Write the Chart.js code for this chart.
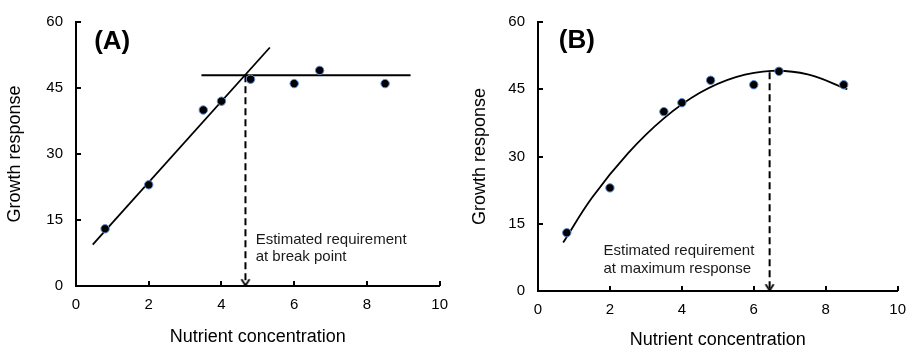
<!DOCTYPE html>
<html>
<head>
<meta charset="utf-8">
<script src="https://cdn.jsdelivr.net/npm/chart.js@4.4.1/dist/chart.umd.min.js"></script>
<style>
  body { margin: 0; background: #fff; }
  .panel { position: absolute; top: 0; width: 458px; height: 350px; }
  #panelA { left: 0; }
  #panelB { left: 458px; }
</style>
</head>
<body>
<div class="panel" id="panelA"><canvas id="chartA"></canvas></div>
<div class="panel" id="panelB"><canvas id="chartB"></canvas></div>
<script>
// observed responses (same in both panels)
var concentration = [0.8, 2, 3.5, 4, 4.8, 6, 6.7, 8.5];
var growth = [13, 23, 40, 42, 47, 46, 49, 46];
var xTicks = [0, 2, 4, 6, 8, 10];
var yTicks = [0, 15, 30, 45, 60];

// (A) broken-line model
var riseX = [0.46, 5.33];
var riseY = [9.4, 54.2];
var plateauX = [3.45, 9.2];
var plateauY = [47.9, 47.9];
var breakX = [4.66, 4.66];
var breakY = [47.9, 0];

// (B) quadratic model
var curveX = [0.7, 1.5, 2.5, 3.5, 4.5, 5.5, 6.5, 7.5, 8.6];
var curveY = [10.8, 20.8, 30.7, 38.5, 44.2, 47.7, 49.1, 48.3, 45.0];
var maxX = [6.44, 6.44];
var maxY = [48.8, 0];

Chart.defaults.font.family = '"Liberation Sans", Arial, sans-serif';
Chart.defaults.color = '#000';

function pts(xs, ys) {
  return xs.map(function (x, i) { return { x: x, y: ys[i] }; });
}

// open "v" arrow head, tip at the centre of the canvas
function makeChevron() {
  var c = document.createElement('canvas');
  c.width = 12; c.height = 16;
  var g = c.getContext('2d');
  g.strokeStyle = '#000';
  g.lineWidth = 1.8;
  g.beginPath();
  g.moveTo(2, 1.2); g.lineTo(6, 7.6); g.lineTo(10, 1.2);
  g.stroke();
  return c;
}
var chevron = makeChevron();

// panel letter, note text and inward tick marks
var notesPlugin = {
  id: 'notes',
  afterDraw: function (chart, args, opts) {
    var ctx = chart.ctx, xs = chart.scales.x, ys = chart.scales.y;
    var a = chart.chartArea;
    ctx.save();
    ctx.strokeStyle = '#000';
    ctx.lineWidth = 2;
    ctx.beginPath();
    xTicks.forEach(function (v) {
      var px = Math.round(xs.getPixelForValue(v));
      ctx.moveTo(px, a.bottom); ctx.lineTo(px, a.bottom - 5);
    });
    yTicks.forEach(function (v) {
      var py = Math.round(ys.getPixelForValue(v));
      ctx.moveTo(a.left, py); ctx.lineTo(a.left + 5, py);
    });
    ctx.stroke();

    ctx.textBaseline = 'middle';
    ctx.textAlign = 'left';
    ctx.fillStyle = '#000';
    ctx.font = 'bold 26px "Liberation Sans", Arial, sans-serif';
    ctx.fillText(opts.panel, xs.getPixelForValue(opts.panelAt[0]), ys.getPixelForValue(opts.panelAt[1]));
    ctx.fillStyle = '#1a1a1a';
    ctx.font = '15px "Liberation Sans", Arial, sans-serif';
    opts.note.forEach(function (line, i) {
      ctx.fillText(line, xs.getPixelForValue(opts.noteAt[0]), ys.getPixelForValue(opts.noteAt[1]) + i * 17.5);
    });
    ctx.restore();
  }
};

function buildPanel(id, fits, geo, notes) {
  var datasets = [{
    data: pts(concentration, growth),
    backgroundColor: '#000',
    borderColor: '#5b8fd6',
    borderWidth: 1,
    pointRadius: 4.2,
    order: 0
  }].concat(fits);

  return new Chart(document.getElementById(id), {
    type: 'scatter',
    data: { datasets: datasets },
    plugins: [notesPlugin],
    options: {
      responsive: true,
      maintainAspectRatio: false,
      animation: false,
      devicePixelRatio: 1,
      layout: { padding: { left: 0, right: geo.right, top: geo.top, bottom: 0 } },
      plugins: {
        legend: { display: false },
        tooltip: { enabled: false },
        notes: notes
      },
      scales: {
        x: {
          type: 'linear', min: 0, max: 10,
          afterBuildTicks: function (s) { s.ticks = xTicks.map(function (v) { return { value: v }; }); },
          afterFit: function (s) { s.height = geo.xHeight; },
          grid: { display: false, drawTicks: false },
          border: { display: true, color: '#000', width: 2 },
          ticks: { padding: 10, font: { size: 15 } },
          title: {
            display: true, text: 'Nutrient concentration',
            font: { size: 18 }, padding: { top: 0, bottom: geo.xTitlePad }
          }
        },
        y: {
          type: 'linear', min: 0, max: 60,
          afterBuildTicks: function (s) { s.ticks = yTicks.map(function (v) { return { value: v }; }); },
          afterFit: function (s) { s.width = geo.yWidth; },
          grid: { display: false, drawTicks: false },
          border: { display: true, color: '#000', width: 2 },
          ticks: { padding: 13, font: { size: 15 } },
          title: {
            display: true, text: 'Growth response',
            font: { size: 18 }, padding: { top: geo.yTitlePad, bottom: 0 }
          }
        }
      }
    }
  });
}

function fitLine(xs, ys, extra) {
  var ds = {
    data: pts(xs, ys),
    showLine: true,
    borderColor: '#000',
    borderWidth: 1.8,
    pointRadius: 0,
    fill: false,
    order: 1
  };
  for (var k in extra) ds[k] = extra[k];
  return ds;
}

function arrowLine(xs, ys) {
  return fitLine(xs, ys, {
    borderDash: [7, 4],
    borderWidth: 2,
    pointRadius: [0, 4],
    pointStyle: chevron
  });
}

buildPanel('chartA', [
  fitLine(riseX, riseY),
  fitLine(plateauX, plateauY),
  arrowLine(breakX, breakY)
], { right: 18, top: 17, xHeight: 64, yWidth: 76, xTitlePad: 2, yTitlePad: 4 }, {
  panel: '(A)', panelAt: [0.5, 55.6],
  note: ['Estimated requirement', 'at break point'], noteAt: [4.94, 10.5]
});

buildPanel('chartB', [
  fitLine(curveX, curveY, { tension: 0.4 }),
  arrowLine(maxX, maxY)
], { right: 13, top: 22, xHeight: 59, yWidth: 80, xTitlePad: -1, yTitlePad: 11 }, {
  panel: '(B)', panelAt: [0.58, 55.8],
  note: ['Estimated requirement', 'at maximum response'], noteAt: [1.82, 8.9]
});
</script>
</body>
</html>
